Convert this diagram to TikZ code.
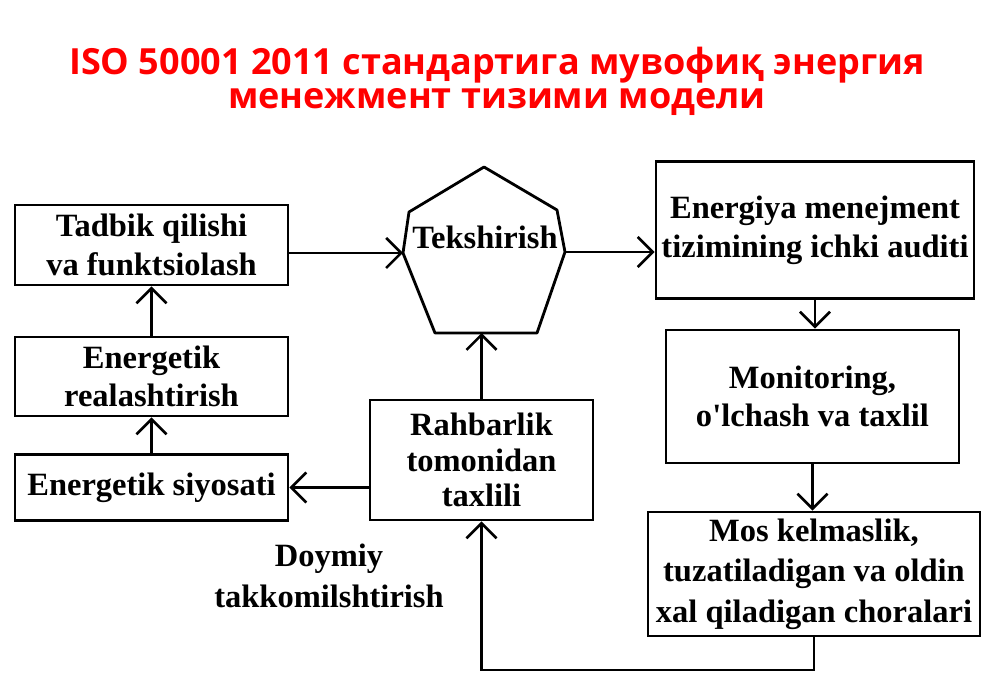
\documentclass[tikz,border=0pt]{standalone}
\usepackage{fontspec}
\setmainfont{Liberation Serif}
\newfontfamily\titlefont{Open Sans}
\usetikzlibrary{arrows.meta, calc, positioning}

\begin{document}
\begin{tikzpicture}[
box/.style={rectangle, text centered, align=center, draw=black, line width=1.6pt,
  inner sep=0pt, font=\bfseries\fontsize{18.5}{22}\selectfont},
arr/.style={-{Straight Barb[length=3mm, width=6mm, line width=1.5pt]},
  line width=1.5pt, color=black},
]
\useasboundingbox (0,0) rectangle (20,-13.84);

\node[text=red, align=center, font=\titlefont\bfseries\fontsize{20.5}{19.5}\selectfont]
(title) at (9.94, -1.62)
{ISO 50001 2011 стандартига мувофиқ энергия\\менежмент тизими модели};

\node[box, minimum width=5.46cm, minimum height=1.6cm]
(tadbik) at (3.03, -4.9)
{Tadbik qilishi\\va funktsiolash};

\node[box, minimum width=5.46cm, minimum height=1.58cm]
(realash) at (3.03, -7.53)
{Energetik\\realashtirish};

\node[box, minimum width=5.46cm, minimum height=1.32cm]
(siyosat) at (3.03, -9.75)
{Energetik siyosati};

\node[box, minimum width=4.46cm, minimum height=2.4cm,
font=\bfseries\fontsize{18.5}{20}\selectfont]
(rahbar) at (9.63, -9.2)
{Rahbarlik\\tomonidan\\taxlili};

\node[box, minimum width=6.36cm, minimum height=2.74cm]
(audit) at (16.3, -4.6)
{Energiya menejment\\tizimining ichki auditi};

\node[box, minimum width=5.86cm, minimum height=2.66cm]
(monitor) at (16.25, -7.93)
{Monitoring,\\o\textquotesingle lchash va taxlil};

\node[box, minimum width=6.64cm, minimum height=2.48cm,
font=\bfseries\fontsize{18.5}{23}\selectfont]
(moskel) at (16.28, -11.48)
{Mos kelmaslik,\\tuzatiladigan va oldin\\xal qiladigan choralari};

% pentagon
\coordinate (chkT) at (9.68, -3.34);
\coordinate (chkUL) at (8.18, -4.24);
\coordinate (chkL) at (8.06, -5.06);
\coordinate (chkBL) at (8.7, -6.66);
\coordinate (chkBR) at (10.74, -6.66);
\coordinate (chkR) at (11.3, -5.04);
\coordinate (chkUR) at (11.14, -4.2);
\coordinate (chkB) at (9.63, -6.66);
\draw[line width=1.6pt, line join=round]
(chkT) -- (chkUL) -- (chkL) -- (chkBL) -- (chkBR) -- (chkR) -- (chkUR) -- cycle;

\node[font=\bfseries\fontsize{18.5}{22}\selectfont, inner sep=0pt]
(chk) at (9.7, -4.74)
{Tekshirish};

\node[align=center, font=\bfseries\fontsize{18.5}{23}\selectfont]
(doymiy) at (6.58, -11.52)
{Doymiy\\takkomilshtirish};

\coordinate (loop) at (9.63, -13.4);

\draw[arr] (tadbik.east |- chkL) -- (chkL);
\draw[arr] (chkR) -- (chkR -| audit.west);
\draw[arr] (siyosat) -- (realash);
\draw[arr] (realash) -- (tadbik);
\draw[arr] (audit.south) -- (audit.south |- monitor.north);
\draw[arr] (monitor.south) -- (monitor.south |- moskel.north);
\draw[arr] (rahbar.west |- siyosat) -- (siyosat.east);
\draw[arr] (rahbar.north) -- (rahbar.north |- chkB);
\draw[arr] (moskel.south) |- (loop) -- (rahbar.south);

\end{tikzpicture}
\end{document}
